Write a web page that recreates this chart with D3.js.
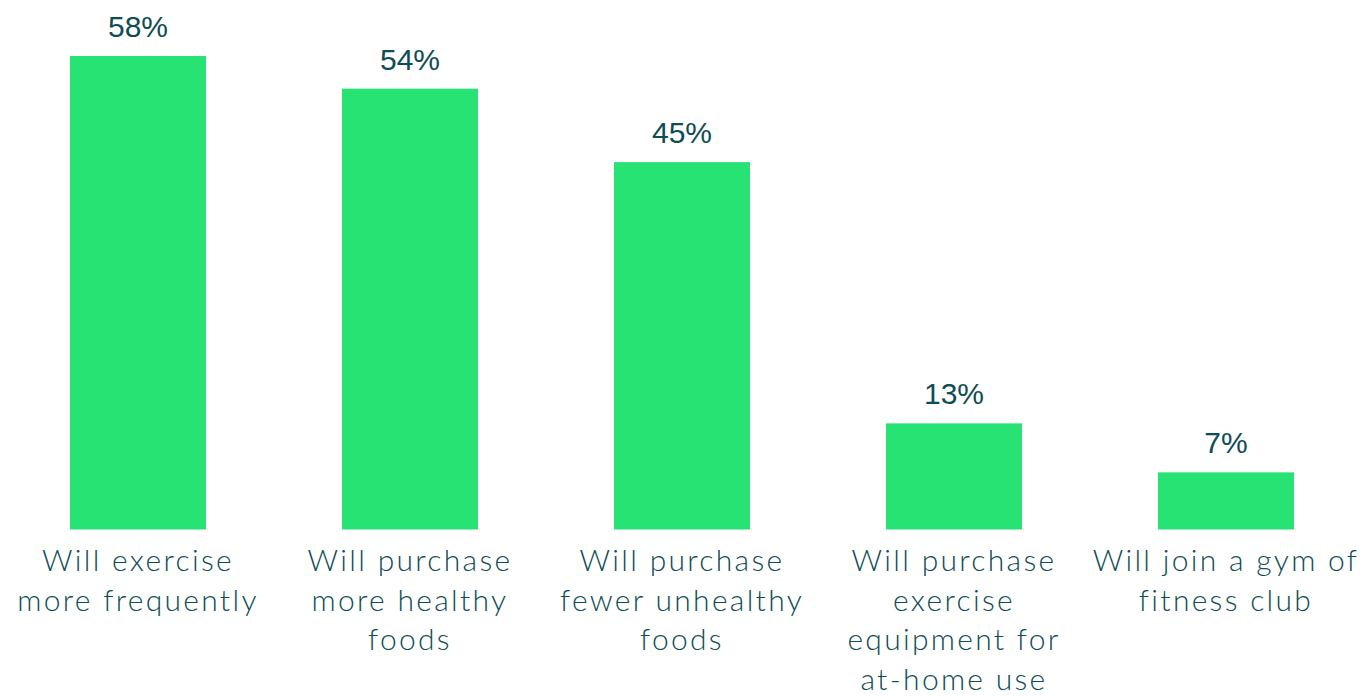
<!DOCTYPE html>
<html>
<head>
<meta charset="utf-8">
<script src="https://cdn.jsdelivr.net/npm/d3@7"></script>
<style>
  html, body { margin: 0; padding: 0; background: #fff; }
  svg { display: block; }
</style>
</head>
<body>
<svg id="chart" width="1365" height="696"></svg>
<script>
// Survey responses: planned behaviour changes
const categories = [
  ["Will exercise", "more frequently"],
  ["Will purchase", "more healthy", "foods"],
  ["Will purchase", "fewer unhealthy", "foods"],
  ["Will purchase", "exercise", "equipment for", "at-home use"],
  ["Will join a gym of", "fitness club"]
];
const values = [58, 54, 45, 13, 7];

const W = 1365, H = 696;
const barColor = "#27e373";
const textColor = "#0e4d54";

const svg = d3.select("#chart");

const x = d3.scaleBand()
  .domain(d3.range(values.length))
  .range([2, 1362])
  .paddingInner(0.5)
  .paddingOuter(0.25);

const y = d3.scaleLinear()
  .domain([0, 58])
  .range([529.5, 56]);

// bars
svg.append("g")
  .selectAll("rect")
  .data(values)
  .join("rect")
  .attr("x", (d, i) => x(i))
  .attr("y", d => y(d))
  .attr("width", x.bandwidth())
  .attr("height", d => y(0) - y(d))
  .attr("fill", barColor);

// value labels
svg.append("g")
  .selectAll("text")
  .data(values)
  .join("text")
  .attr("x", (d, i) => x(i) + x.bandwidth() / 2)
  .attr("y", d => y(d) - 19)
  .attr("text-anchor", "middle")
  .attr("font-family", "'Liberation Sans', Arial, sans-serif")
  .attr("font-weight", 400)
  .attr("font-size", 30)
  .attr("fill", textColor)
  .text(d => d + "%");

// category labels
const cat = svg.append("g")
  .selectAll("text")
  .data(categories)
  .join("text")
  .attr("x", (d, i) => x(i) + x.bandwidth() / 2)
  .attr("y", 571)
  .attr("text-anchor", "middle")
  .attr("font-family", "Lato, 'Noto Sans', sans-serif")
  .attr("font-weight", 300)
  .attr("font-size", 30)
  .attr("letter-spacing", 2.3)
  .attr("fill", textColor);

cat.selectAll("tspan")
  .data((d, i) => d.map(line => ({ line, i })))
  .join("tspan")
  .attr("x", d => x(d.i) + x.bandwidth() / 2)
  .attr("dy", (d, j) => j === 0 ? 0 : 39.5)
  .text(d => d.line);
</script>
</body>
</html>
